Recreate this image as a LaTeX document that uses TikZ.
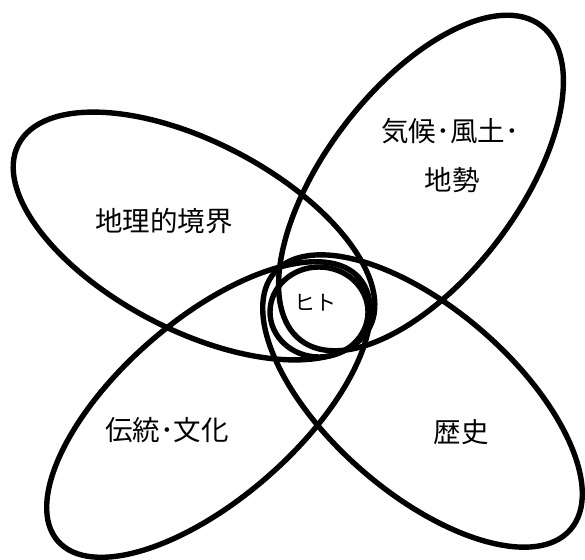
\documentclass[tikz,border=0pt]{standalone}
\usepackage{fontspec}
\setmainfont{Noto Sans CJK JP}
\usetikzlibrary{shapes.geometric}
\tikzset{
  x=1pt,y=-1pt,
  ring/.style={draw=black, line width=5.4pt, ellipse, inner sep=0pt, outer sep=0pt},
  lbl/.style={font=\fontsize{27.5}{30}\selectfont, inner sep=0pt, align=center}
}
\begin{document}
\begin{tikzpicture}
\useasboundingbox[fill=white] (0,0) rectangle (585,559);
\node[ring, minimum width=396pt, minimum height=188pt, rotate=-27.6] (geo) at (194,236) {};
\node[ring, minimum width=396pt, minimum height=192pt, rotate=52.6] (clim) at (421,183) {};
\node[ring, minimum width=400pt, minimum height=179pt, rotate=41.1] (trad) at (208.5,409.5) {};
\node[ring, minimum width=392pt, minimum height=184pt, rotate=-41] (hist) at (422.5,401) {};
\node[ring, minimum width=98pt, minimum height=90pt] (hito) at (319,312) {};
\node[lbl] (tgeo) at (164,221) {地理的境界};
\node[lbl] (tclim1) at (450,131) {気候･風土･};
\node[lbl] (tclim2) at (452,180) {地勢};
\node[lbl] (ttrad) at (167,430) {伝統･文化};
\node[lbl] (thist) at (461,432) {歴史};
\node[lbl, font=\fontsize{21}{24}\selectfont] (thito) at (315,303) {ヒト};
\end{tikzpicture}
\end{document}
